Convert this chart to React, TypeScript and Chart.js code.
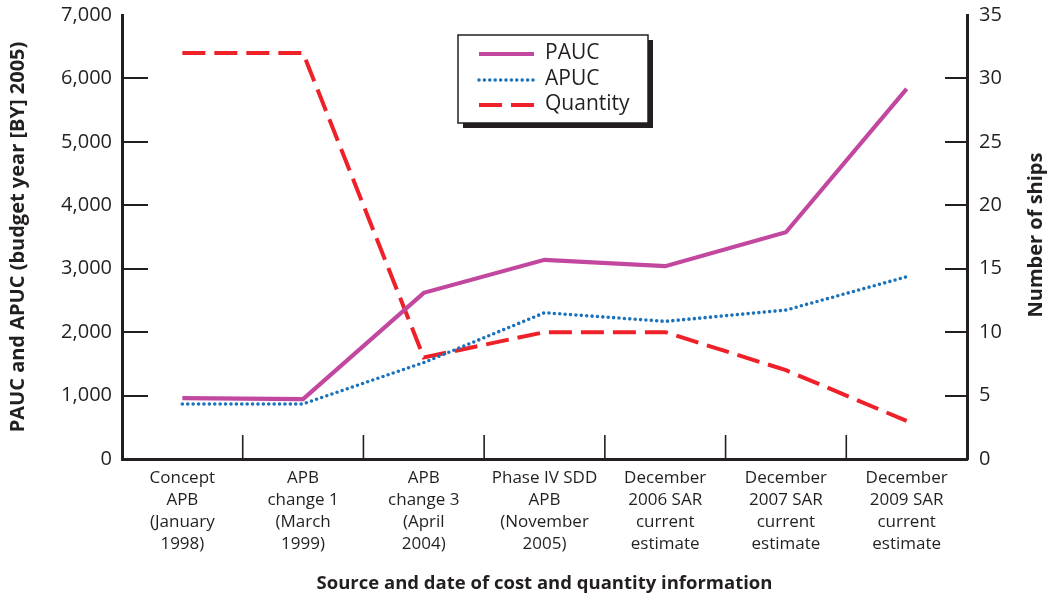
import React, { useEffect, useRef } from "react";
import { Chart, registerables } from "chart.js";
Chart.register(...registerables);

const categories: string[][] = [
  ["Concept", "APB", "(January", "1998)"],
  ["APB", "change 1", "(March", "1999)"],
  ["APB", "change 3", "(April", "2004)"],
  ["Phase IV SDD", "APB", "(November", "2005)"],
  ["December", "2006 SAR", "current", "estimate"],
  ["December", "2007 SAR", "current", "estimate"],
  ["December", "2009 SAR", "current", "estimate"],
];
const paucValues = [960, 945, 2620, 3140, 3040, 3575, 5835];
const apucValues = [868, 868, 1520, 2306, 2170, 2348, 2873];
const quantityValues = [32, 32, 8, 10, 10, 7, 3];
const seriesLabels = ["PAUC", "APUC", "Quantity"];
const leftAxisTitle = "PAUC and APUC (budget year [BY] 2005)";
const rightAxisTitle = "Number of ships";
const xAxisTitle = "Source and date of cost and quantity information";
const LEFT_MAX = 7000;
const LEFT_STEP = 1000;
const RIGHT_MAX = 35;
const RIGHT_STEP = 5;

const INK = "#231f20";
const PAUC_COLOR = "#c2479e";
const APUC_COLOR = "#1a72bd";
const QTY_COLOR = "#ee2028";
const FONT = "'Open Sans', 'Noto Sans', sans-serif";

const decorPlugin = {
  id: "decor",
  afterDraw(chart: any) {
    const ctx = chart.ctx as CanvasRenderingContext2D;
    const area = chart.chartArea;
    const bottom = area.bottom;
    const xs = chart.scales["x"];
    const ys = chart.scales["y"];
    const yr = chart.scales["y1"];
    ctx.save();
    ctx.setLineDash([]);
    ctx.lineCap = "butt";
    // inward tick marks on both value axes
    ctx.fillStyle = INK;
    for (let v = LEFT_STEP; v < LEFT_MAX; v += LEFT_STEP) {
      const py = Math.round(ys.getPixelForValue(v));
      ctx.fillRect(area.left, py - 1, 26, 2);
    }
    for (let v = RIGHT_STEP; v < RIGHT_MAX; v += RIGHT_STEP) {
      const py = Math.round(yr.getPixelForValue(v));
      ctx.fillRect(area.right - 22, py - 1, 22, 2);
    }
    // category separators on x axis
    ctx.strokeStyle = INK;
    ctx.lineWidth = 1.6;
    for (let i = 0; i < categories.length - 1; i++) {
      const px = (xs.getPixelForTick(i) + xs.getPixelForTick(i + 1)) / 2;
      ctx.beginPath();
      ctx.moveTo(px, bottom);
      ctx.lineTo(px, bottom - 24);
      ctx.stroke();
    }
    // right axis title
    ctx.save();
    ctx.translate(1036, 235);
    ctx.rotate(-Math.PI / 2);
    ctx.fillStyle = INK;
    ctx.font = `bold 20px ${FONT}`;
    ctx.textAlign = "center";
    ctx.textBaseline = "middle";
    ctx.fillText(rightAxisTitle, 0, 0);
    ctx.restore();

    // legend
    const bx = 458, by = 35, bw = 190, bh = 88;
    ctx.fillStyle = INK;
    ctx.fillRect(bx + 5, by + 5, bw, bh);
    ctx.fillStyle = "#ffffff";
    ctx.fillRect(bx, by, bw, bh);
    ctx.strokeStyle = INK;
    ctx.lineWidth = 1.5;
    ctx.strokeRect(bx, by, bw, bh);
    const rows = [54, 80, 105];
    chart.data.datasets.forEach((ds: any, i: number) => {
      const ry = rows[i];
      ctx.save();
      ctx.strokeStyle = ds.borderColor;
      ctx.lineWidth = ds.borderWidth;
      ctx.lineCap = ds.borderCapStyle || "butt";
      ctx.setLineDash(ds.borderDash || []);
      ctx.beginPath();
      ctx.moveTo(479, ry);
      ctx.lineTo(534, ry);
      ctx.stroke();
      ctx.restore();
      ctx.fillStyle = INK;
      ctx.font = `21px ${FONT}`;
      ctx.textAlign = "left";
      ctx.textBaseline = "middle";
      ctx.fillText(ds.label, 545, ry - 1);
    });
    ctx.restore();
  },
};

export default function App() {
  const ref = useRef<HTMLCanvasElement | null>(null);
  useEffect(() => {
    if (!ref.current) return;
    const chart = new Chart(ref.current, {
      type: "line",
      data: {
        labels: categories,
        datasets: [
          {
            label: seriesLabels[0],
            data: paucValues,
            borderColor: PAUC_COLOR,
            backgroundColor: PAUC_COLOR,
            borderWidth: 4.2,
            pointRadius: 0,
            tension: 0,
            yAxisID: "y",
          },
          {
            label: seriesLabels[1],
            data: apucValues,
            borderColor: APUC_COLOR,
            backgroundColor: APUC_COLOR,
            borderWidth: 3.6,
            borderDash: [0, 5.4],
            borderCapStyle: "round",
            pointRadius: 0,
            tension: 0,
            yAxisID: "y",
          },
          {
            label: seriesLabels[2],
            data: quantityValues,
            borderColor: QTY_COLOR,
            backgroundColor: QTY_COLOR,
            borderWidth: 4,
            borderDash: [23, 9],
            pointRadius: 0,
            tension: 0,
            yAxisID: "y1",
          },
        ],
      },
      options: {
        responsive: false,
        animation: false,
        layout: { padding: { top: 15, left: 0, right: 0, bottom: 0 } },
        plugins: {
          legend: { display: false },
          tooltip: { enabled: false },
        },
        scales: {
          x: {
            offset: true,
            grid: { display: false, drawTicks: false, offset: true },
            border: { display: true, color: INK, width: 3 },
            ticks: {
              color: INK,
              font: { family: FONT, size: 17, lineHeight: 1.3 },
              padding: 8,
              maxRotation: 0,
              minRotation: 0,
              autoSkip: false,
            },
            title: {
              display: true,
              text: xAxisTitle,
              color: INK,
              font: { family: FONT, size: 18.5, weight: "bold" },
              padding: { top: 0, bottom: 3 },
            },
            afterFit: (s: any) => {
              s.height = 139;
              s.paddingLeft = 0;
              s.paddingRight = 0;
            },
          },
          y: {
            position: "left",
            min: 0,
            max: LEFT_MAX,
            grid: { display: false, drawTicks: false },
            border: { display: true, color: INK, width: 3 },
            ticks: {
              stepSize: LEFT_STEP,
              color: INK,
              padding: 10,
              font: { family: FONT, size: 20 },
              callback: (v: any) => Number(v).toLocaleString("en-US"),
            },
            title: {
              display: true,
              text: leftAxisTitle,
              color: INK,
              font: { family: FONT, size: 20, weight: "bold" },
              padding: { top: 6, bottom: 0 },
            },
            afterFit: (s: any) => {
              s.width = 122;
              s.paddingTop = 0;
              s.paddingBottom = 0;
            },
          },
          y1: {
            position: "right",
            min: 0,
            max: RIGHT_MAX,
            grid: { display: false, drawTicks: false },
            border: { display: true, color: INK, width: 3 },
            ticks: {
              stepSize: RIGHT_STEP,
              color: INK,
              padding: 12,
              font: { family: FONT, size: 20 },
            },
            afterFit: (s: any) => {
              s.width = 83;
              s.paddingTop = 0;
              s.paddingBottom = 0;
            },
          },
        },
      },
      plugins: [decorPlugin],
    } as any);
    return () => chart.destroy();
  }, []);
  return (
    <div style={{ position: "fixed", left: 0, top: 0, width: 1050, height: 598, background: "#fff" }}>
      <canvas ref={ref} width={1050} height={598} style={{ width: 1050, height: 598, display: "block" }} />
    </div>
  );
}
